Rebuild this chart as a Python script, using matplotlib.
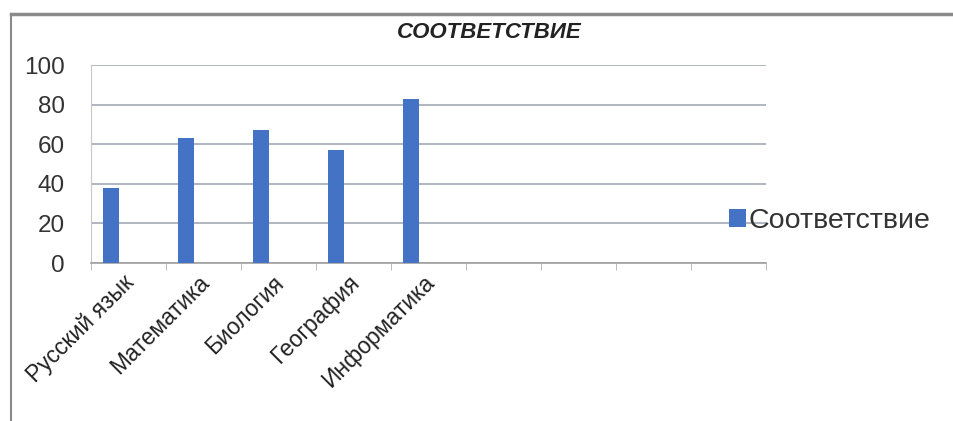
import matplotlib.pyplot as plt
from matplotlib.lines import Line2D

subjects = ["Русский язык", "Математика", "Биология", "География", "Информатика"]
values = [38, 63, 67, 57, 83]
n_slots = 9
series_name = "Соответствие"
title = "СООТВЕТСТВИЕ"

plt.rcParams['font.family'] = ['Liberation Sans', 'DejaVu Sans']

fig = plt.figure(figsize=(9.54, 4.21), dpi=100)
ax = fig.add_axes([91 / 954, 1 - 263 / 421, (766 - 91) / 954, (263 - 65) / 421])

# bars sit at the left of each slot, like an Excel cluster with empty series
xs = [i - 0.233 for i in range(len(values))]
ax.bar(xs, values, width=0.21, color='#4472c4', label=series_name, zorder=3)

ax.set_xlim(-0.5, n_slots - 0.5)
ax.set_ylim(0, 100)
ax.set_yticks(range(0, 101, 20))
ax.yaxis.grid(True, color='#a3a9b5', linewidth=1.2, zorder=0)
ax.tick_params(axis='y', length=0, labelsize=17.5, pad=19, colors='#333333')

ax.set_xticks([i - 0.08 for i in range(len(subjects))])
ax.set_xticklabels(subjects, rotation=45, ha='right', rotation_mode='anchor', fontsize=16.5)
ax.tick_params(axis='x', which='major', length=0, pad=6, colors='#222222')
ax.set_xticks([i - 0.5 for i in range(n_slots + 1)], minor=True)
ax.tick_params(axis='x', which='minor', length=5, color='#b0b0b0')

for s in ['top', 'right']:
    ax.spines[s].set_visible(False)
ax.spines['left'].set_color('#c8c8c8')
ax.spines['bottom'].set_color('#a0a0a0')
ax.spines['bottom'].set_linewidth(1.2)

fig.text(0.513, 1 - 32 / 421, title, ha='center', va='center', fontsize=16,
         fontweight='bold', fontstyle='italic', color='#222222',
         family=['Liberation Sans Narrow', 'Liberation Sans', 'DejaVu Sans'])

fig.legend(loc='center left', bbox_to_anchor=(703 / 954, 1 - 221 / 421), frameon=False,
           fontsize=20.5, handlelength=0.6, handleheight=0.6, handletextpad=0.1,
           labelcolor='#333333')

# chart frame
fig.add_artist(Line2D([11 / 954, 1], [1 - 14 / 421, 1 - 14 / 421], color='#8a8a8a', linewidth=2.5))
fig.add_artist(Line2D([11 / 954, 11 / 954], [0, 1 - 14 / 421], color='#8a8a8a', linewidth=1.5))

fig.savefig('out.png', dpi=100)
